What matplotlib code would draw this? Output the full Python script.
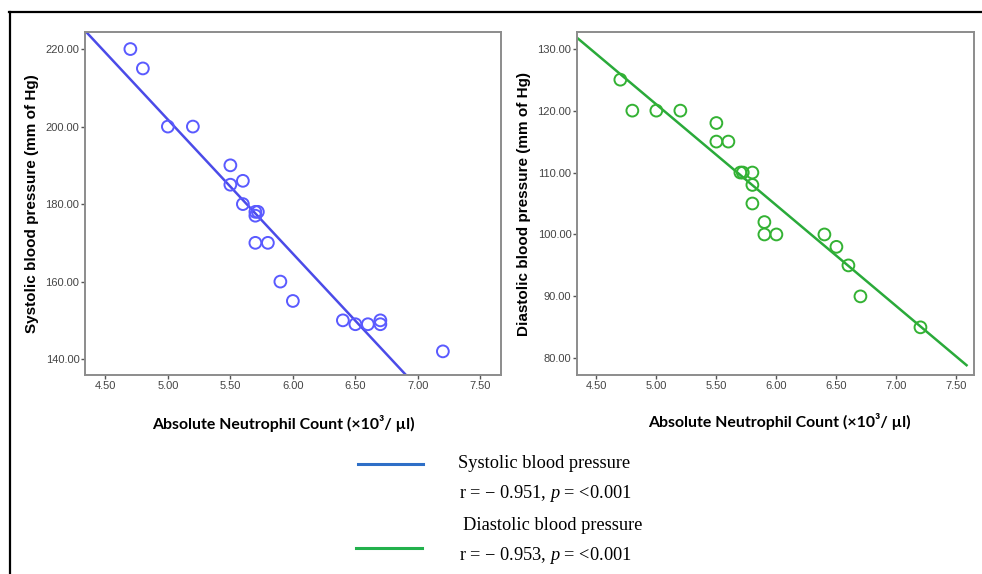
import numpy as np
import matplotlib
matplotlib.use("Agg")
import matplotlib.pyplot as plt
from matplotlib.lines import Line2D

# Data
anc_sys = [4.7, 4.8, 5.0, 5.2, 5.5, 5.5, 5.6, 5.6, 5.7, 5.72, 5.7, 5.7, 5.8, 5.9, 6.0,
           6.4, 6.5, 6.6, 6.7, 6.7, 7.2]
systolic = [220, 215, 200, 200, 190, 185, 186, 180, 178, 178, 177, 170, 170, 160, 155,
            150, 149, 149, 150, 149, 142]

anc_dia = [4.7, 4.8, 5.0, 5.2, 5.5, 5.5, 5.6, 5.7, 5.72, 5.8, 5.8, 5.8, 5.9, 5.9, 6.0,
           6.4, 6.5, 6.6, 6.7, 7.2]
diastolic = [125, 120, 120, 120, 118, 115, 115, 110, 110, 110, 108, 105, 102, 100, 100,
             100, 98, 95, 90, 85]

# fit lines as drawn in the chart: slope, intercept, x extent
sys_fit = (-34.6, 374.8)
sys_fit_x = [4.337, 6.95]
dia_fit = (-16.3, 202.5)
dia_fit_x = [4.339, 7.584]

x_ticks = [4.5, 5.0, 5.5, 6.0, 6.5, 7.0, 7.5]
sys_ticks = [140, 160, 180, 200, 220]
dia_ticks = [80, 90, 100, 110, 120, 130]

legend_labels = ["Systolic blood pressure", "r = \u2212 0.951, $p$ = <0.001",
                 "Diastolic blood pressure", "r = \u2212 0.953, $p$ = <0.001"]

plt.rcParams['mathtext.fontset'] = 'custom'
plt.rcParams['mathtext.it'] = 'Liberation Serif:italic'
plt.rcParams['mathtext.rm'] = 'Liberation Serif'

fig = plt.figure(figsize=(9.82, 5.74), dpi=100)
W, H = 982, 574


def ax_rect(x0, y0, x1, y1):
    return [x0 / W, 1 - y1 / H, (x1 - x0) / W, (y1 - y0) / H]


def panel(rect, xs, ys, fit, fit_x, xlim, ylim, yticks, ylabel, mcol, lcol):
    ax = fig.add_axes(rect)
    ax.scatter(xs, ys, s=72, facecolors='none', edgecolors=mcol, linewidths=1.4, zorder=3)
    slope, icpt = fit
    lx = np.array(fit_x)
    ax.plot(lx, icpt + slope * lx, color=lcol, lw=1.8, zorder=2)
    ax.set_xlim(*xlim)
    ax.set_ylim(*ylim)
    ax.set_xticks(x_ticks)
    ax.set_xticklabels([f"{t:.2f}" for t in x_ticks])
    ax.set_yticks(yticks)
    ax.set_yticklabels([f"{t:.2f}" for t in yticks])
    ax.tick_params(direction='out', length=3, width=1, color='#555555',
                   labelsize=8, labelcolor='#444444', pad=1)
    for lab in ax.get_xticklabels() + ax.get_yticklabels():
        lab.set_family('Liberation Sans')
    for sp in ax.spines.values():
        sp.set_color('#8c8c8c')
        sp.set_linewidth(1.4)
    ax.set_ylabel(ylabel, fontsize=11, fontweight='bold', family='Liberation Sans',
                  labelpad=5)
    return ax


ax1 = panel(ax_rect(85, 32, 501, 375), anc_sys, systolic, sys_fit, sys_fit_x,
            (4.337, 7.665), (135.9, 224.4), sys_ticks,
            "Systolic blood pressure (mm of Hg)", '#5a5aff', '#4b4be8')
ax2 = panel(ax_rect(577, 32, 974, 375), anc_dia, diastolic, dia_fit, dia_fit_x,
            (4.339, 7.646), (77.3, 132.7), dia_ticks,
            "Diastolic blood pressure (mm of Hg)", '#33b233', '#2aaa3a')

xlab = "Absolute Neutrophil Count (\u00d710\u00b3/ \u00b5l)"
fig.text(283 / W, 1 - 424 / H, xlab, ha='center', va='center', fontsize=11.4,
         fontweight='bold', family='Lato')
fig.text(779 / W, 1 - 421 / H, xlab, ha='center', va='center', fontsize=11.4,
         fontweight='bold', family='Lato')

# outer frame
fig.add_artist(Line2D([9 / W, 1], [1 - 12 / H, 1 - 12 / H], color='black', lw=1.6))
fig.add_artist(Line2D([9.5 / W, 9.5 / W], [0, 1 - 12 / H], color='black', lw=1.6))

# legend
fig.add_artist(Line2D([358 / W, 423 / W], [1 - 464 / H] * 2, color='#2e6fc7', lw=2.2))
fig.add_artist(Line2D([356 / W, 422 / W], [1 - 548 / H] * 2, color='#22b14c', lw=2.2))
text_pos = [(458, 463), (459, 494), (463, 525), (459, 556)]
for (tx, ty), lab in zip(text_pos, legend_labels):
    fig.text(tx / W, 1 - ty / H, lab, ha='left', va='center', fontsize=13.2,
             family='Liberation Serif')

fig.savefig("out.png", dpi=100)
